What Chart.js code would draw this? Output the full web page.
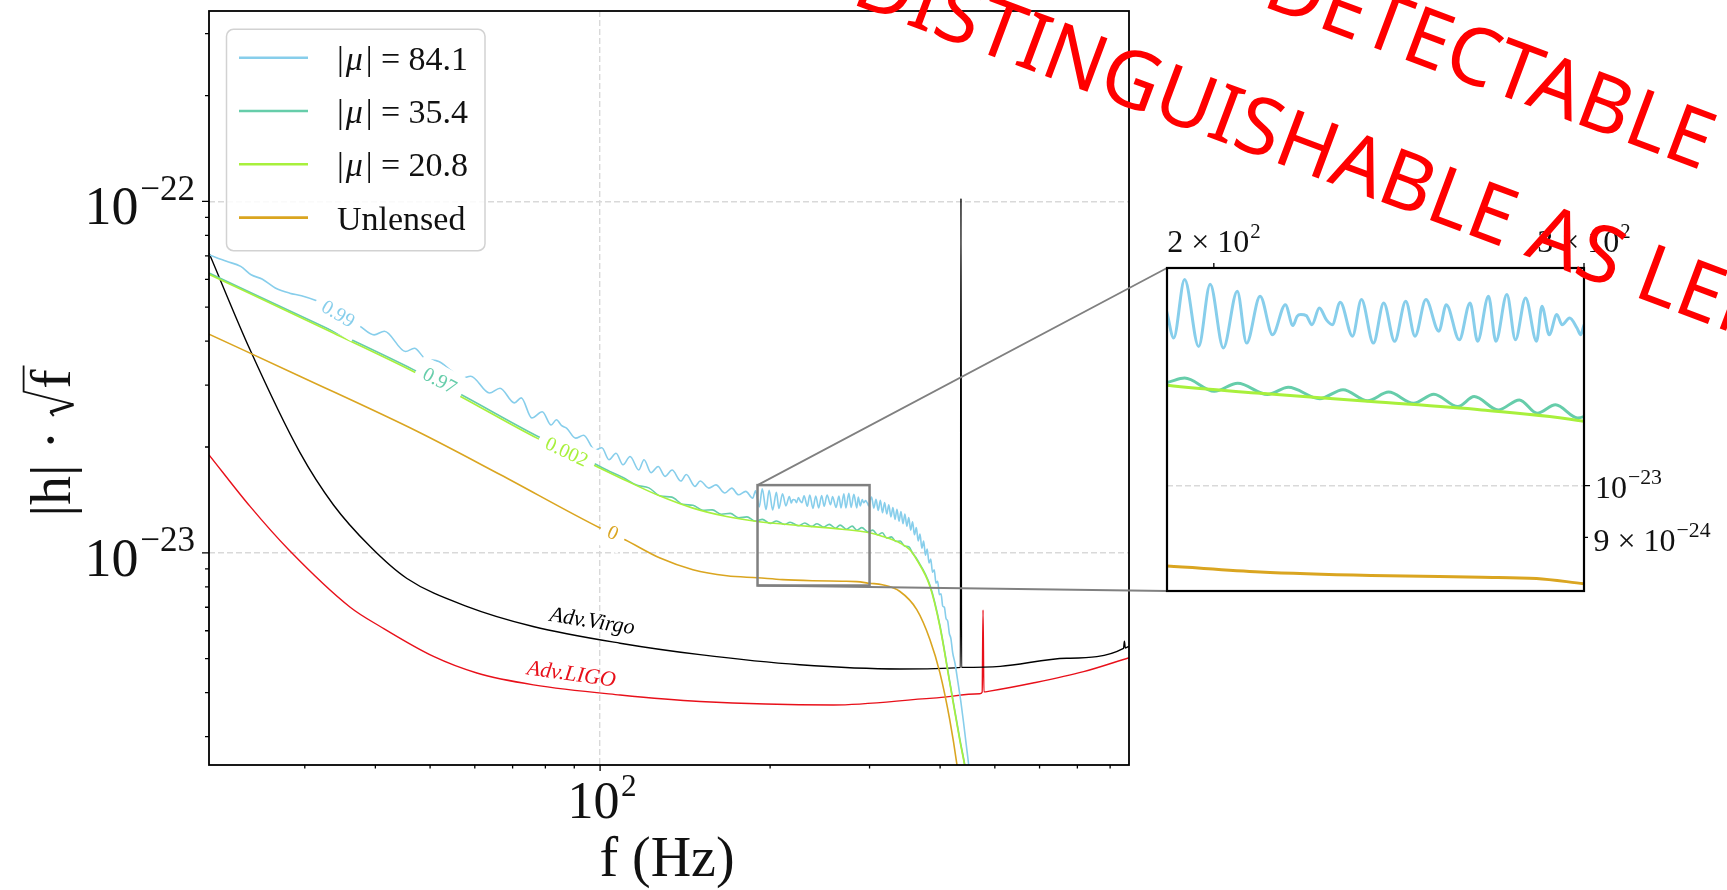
<!DOCTYPE html>
<html>
<head>
<meta charset="utf-8">
<script src="https://cdn.jsdelivr.net/npm/chart.js@4.4.0/dist/chart.umd.min.js"></script>
<style>
  html, body { margin: 0; padding: 0; background: #fff; overflow: hidden; }
  #wrap { position: relative; width: 1727px; height: 890px; }
  #wrap canvas { position: absolute; }
</style>
</head>
<body>
<div id="wrap">
  <canvas id="main" width="1727" height="890" style="left:0;top:0"></canvas>
  <canvas id="inset" width="627" height="420"></canvas>
  <canvas id="stamp" width="1727" height="890" style="left:0;top:0;pointer-events:none"></canvas>
</div>
<script>
// |h|*sqrt(f) curves, [frequency in Hz, value in units of 1e-23]
const mu841 = [
  [20.3,7.05],[21.8,6.75],[23.1,6.53],[24.1,6.18],[25.2,6.01],[26.6,5.67],[28.2,5.48],[29.6,5.39],
  [31.4,5.22],[33.5,4.95],[35.5,4.70],[37.6,4.41],[39.8,4.17],[41.5,4.27],[45.25,3.74],[46.9,3.82],
  [48.9,3.58],[51.8,3.50],[54.5,3.30],[56.9,3.14],[59.0,3.18],[63.7,2.85],[66.5,2.94],[70.5,2.67],
  [72.5,2.76],[75.7,2.42],[79.0,2.52],[81.9,2.31],[83.7,2.39],[85.5,2.30],[87.3,2.26],[90.5,2.12],
  [93.5,2.16],[97.9,1.96],[100.7,1.99],[103.7,1.84],[106.7,1.92],[109.8,1.78],[113.0,1.88],[117.1,1.72],
  [119.6,1.84],[123.1,1.69],[126.7,1.76],[130.3,1.65],[134.1,1.72],[139.0,1.60],[142.1,1.67],[147.2,1.545],
  [150.4,1.60],[155.8,1.528],[160.4,1.56],[166.3,1.479],[171.1,1.528],[175.8,1.462],[181.1,1.495],[186.3,1.43],
  [188.5,1.50],[190.0,1.422],[191.4,1.351],[193.7,1.522],[196.7,1.328],[199.2,1.507],[202.1,1.324],[205.2,1.486],
  [207.3,1.337],[210.4,1.471],[213.3,1.360],[216.3,1.446],[218.1,1.386],[219.1,1.412],[220.0,1.417],[221.3,1.414],
  [222.7,1.388],[224.5,1.436],[226.3,1.401],[227.7,1.388],[229.7,1.453],[232.8,1.356],[235.1,1.461],[238.2,1.337],
  [240.9,1.451],[243.8,1.342],[246.8,1.456],[249.3,1.356],[252.3,1.461],[255.9,1.370],[258.0,1.446],[261.7,1.346],
  [264.8,1.451],[267.0,1.342],[270.2,1.471],[272.4,1.342],[275.7,1.476],[278.3,1.346],[281.4,1.466],[284.8,1.342],
  [286.5,1.441],[288.8,1.360],[291.2,1.417],[292.9,1.388],[295.3,1.407],[297.7,1.379],[298.9,1.360],[299.9,1.384],
  [302.5,1.44],[305.3,1.34],[308.0,1.42],[310.8,1.32],[313.5,1.41],[316.3,1.30],[319.0,1.39],[321.8,1.29],
  [324.5,1.37],[327.3,1.265],[330.0,1.345],[332.8,1.245],[335.5,1.33],[338.3,1.23],[341.0,1.31],[343.8,1.21],
  [346.5,1.29],[349.3,1.19],[352.0,1.26],[354.8,1.16],[357.5,1.225],[360.3,1.125],[363.0,1.18],[365.8,1.08],
  [368.5,1.13],[371.3,1.03],[374.0,1.08],[376.8,0.985],[379.5,1.025],[382.3,0.935],[385.0,0.96],[387.8,0.88],
  [390.5,0.895],[393.3,0.82],[396.0,0.83],[398.8,0.76],[401.5,0.765],[404.3,0.705],[407.0,0.70],[409.8,0.65],
  [412.5,0.64],[415.3,0.59],[418.0,0.57],[421.0,0.52],[425.0,0.485],[430.0,0.43],[435.0,0.38],[440.0,0.33],
  [448.0,0.26],[455.0,0.21]
];
const mu354 = [
  [20.3,6.25],[33.7,4.27],[46.7,3.32],[56.5,2.83],[77.3,2.15],[97.2,1.80],[104.0,1.705],[110.0,1.635],
  [116.0,1.558],[122.0,1.53],[128.0,1.45],[134.0,1.44],[140.0,1.374],[146.0,1.365],[152.0,1.322],[158.0,1.325],
  [164.0,1.287],[170.0,1.295],[176.0,1.257],[182.0,1.265],[188.0,1.232],[190.0,1.234],[193.7,1.245],[200.1,1.212],
  [205.3,1.232],[212.1,1.204],[217.0,1.222],[224.6,1.194],[230.4,1.216],[236.7,1.189],[242.2,1.210],[248.9,1.183],
  [254.5,1.205],[261.3,1.175],[266.0,1.199],[273.1,1.167],[279.5,1.191],[285.0,1.159],[290.8,1.179],[297.9,1.148],
  [304.0,1.16],[310.0,1.125],[316.0,1.14],[322.0,1.10],[328.0,1.11],[334.0,1.078],[340.0,1.08],[346.0,1.045],
  [352.0,1.04],[358.0,0.995],[363.7,0.96],[383.8,0.808],[399.6,0.622],[416.0,0.43],[433.2,0.297],[442.0,0.251],
  [450.0,0.212]
];
const mu208 = [
  [20.3,6.20],[33.7,4.22],[46.7,3.28],[56.5,2.79],[77.3,2.12],[97.2,1.78],[111.6,1.60],[127.7,1.45],
  [146.0,1.34],[167.5,1.268],[190.0,1.227],[210.4,1.207],[237.6,1.187],[268.2,1.167],[300.0,1.140],[316.6,1.113],
  [339.6,1.066],[353.5,1.02],[363.7,0.955],[383.8,0.802],[399.6,0.617],[416.0,0.427],[433.2,0.294],[442.0,0.249],
  [450.0,0.21]
];
const unlensed = [
  [20.3,4.19],[29.4,3.18],[47.6,2.21],[66.5,1.67],[100.0,1.176],[110.7,1.089],[127.7,0.966],[146.0,0.895],
  [167.7,0.86],[190.0,0.849],[210.4,0.839],[237.6,0.833],[268.2,0.830],[284.8,0.828],[300.0,0.819],[316.0,0.811],
  [339.6,0.776],[363.7,0.689],[383.8,0.566],[399.6,0.456],[416.0,0.335],[428.5,0.249],[436.0,0.2]
];
const advVirgo = [
  [20.3,7.13],[24.0,3.78],[29.4,1.93],[33.7,1.37],[39.2,1.04],[45.5,0.845],[58.2,0.703],[76.1,0.617],
  [108.5,0.553],[150.3,0.513],[225.8,0.48],[339.6,0.467],[434.5,0.472],[435.5,10.2],[436.5,0.472],[511.0,0.475],
  [669.8,0.501],[845.0,0.535],[848.0,0.56],[851.0,0.536],[864.0,0.542]
];
const advLigo = [
  [20.3,1.90],[24.0,1.355],[28.1,1.02],[36.1,0.70],[40.8,0.617],[50.7,0.507],[60.5,0.455],[76.2,0.421],
  [108.5,0.394],[150.3,0.3775],[258.6,0.369],[388.8,0.386],[470.0,0.397],[474.8,0.401],[476.5,0.688],[478.2,0.402],
  [489.5,0.404],[584.0,0.426],[718.0,0.459],[864.0,0.503]
];

const muValues = ['84.1', '35.4', '20.8'];
const legendNames = ['Unlensed'];
const matchLabels = ['0.99', '0.97', '0.002', '0'];
const detectorLabels = ['Adv.Virgo', 'Adv.LIGO'];

const mainXTicks = [30, 40, 50, 60, 70, 80, 90, 100, 200, 300, 400, 500, 600, 700, 800];
const mainYTicks = [3e-24, 4e-24, 5e-24, 6e-24, 7e-24, 8e-24, 9e-24, 1e-23, 2e-23, 3e-23, 4e-23,
                    5e-23, 6e-23, 7e-23, 8e-23, 9e-23, 1e-22, 2e-22, 3e-22];
const zoomXTicks = [200, 300];
const zoomYTicks = [9e-24, 1e-23];

const stampLines = ['NOT DETECTABLE', 'NOT DISTINGUISHABLE AS LENSED'];

// ---- styling / layout ----
const E23 = 1e-23;
const SERIF = '"Liberation Serif", "DejaVu Serif", serif';
const BLUE = '#87ceeb', TEAL = '#66cdaa', GREEN = '#a8f03c', GOLD = '#daa520';
const MAIN_X = {min: 20.3, max: 864};
const MAIN_Y = {min: 2.49e-24, max: 3.48e-22};
const ZOOM_X = {min: 190, max: 300};
const ZOOM_Y = {min: 8.07e-24, max: 1.558e-23};
const INSET = {left: 1167, top: 268, right: 1584, bottom: 591};

Chart.defaults.font.family = SERIF;

const toPts = arr => arr.map(p => ({x: p[0], y: p[1] * E23}));

function ds(label, arr, color, width, order) {
  return {label: label, data: toPts(arr), borderColor: color, borderWidth: width, order: order,
          pointRadius: 0, fill: false, cubicInterpolationMode: 'monotone'};
}

// "10" with a raised exponent, like matplotlib's mathtext
function drawPow(ctx, base, sup, x, baseline, size, align, supScale, supRaise) {
  const bf = size + 'px ' + SERIF, sf = (size * supScale) + 'px ' + SERIF;
  ctx.font = bf; const wb = ctx.measureText(base).width;
  ctx.font = sf; const ws = ctx.measureText(sup).width;
  const gap = size * 0.03;
  const tot = wb + gap + ws;
  const x0 = align === 'right' ? x - tot : align === 'center' ? x - tot / 2 : x;
  ctx.textAlign = 'left'; ctx.textBaseline = 'alphabetic';
  ctx.font = bf; ctx.fillText(base, x0, baseline);
  ctx.font = sf; ctx.fillText(sup, x0 + wb + gap, baseline - size * supRaise);
}

function drawMu(ctx, value, x, baseline, size) {
  const up = size + 'px ' + SERIF, it = 'italic ' + size + 'px ' + SERIF;
  const parts = [['|', up, 0.06], ['\u03bc', it, 0.08], ['|', up, 0], [' = ' + value, up, 0]];
  let cx = x;
  ctx.textAlign = 'left'; ctx.textBaseline = 'alphabetic';
  parts.forEach(p => {
    ctx.font = p[1];
    ctx.fillText(p[0], cx, baseline);
    cx += ctx.measureText(p[0]).width + p[2] * size;
  });
}

const lineLabels = [
  {text: matchLabels[0], f: 34.3, h: 4.76, angle: 31, color: BLUE, box: true},
  {text: matchLabels[1], f: 51.9, h: 3.07, angle: 28, color: TEAL, box: true},
  {text: matchLabels[2], f: 87.1, h: 1.926, angle: 25.5, color: GREEN, box: true},
  {text: matchLabels[3], f: 105.2, h: 1.133, angle: 25.5, color: GOLD, box: true},
  {text: detectorLabels[0], f: 96.8, h: 0.636, angle: 9, color: '#000', box: false},
  {text: detectorLabels[1], f: 88.9, h: 0.4496, angle: 8, color: '#e8101a', box: false}
];

const mainDecor = {
  id: 'mainDecor',
  afterDatasetsDraw(chart) {
    const {ctx, scales: {x, y}} = chart;
    lineLabels.forEach(l => {
      const px = x.getPixelForValue(l.f), py = y.getPixelForValue(l.h * E23);
      ctx.save();
      ctx.translate(px, py);
      ctx.rotate(l.angle * Math.PI / 180);
      ctx.font = l.box ? '20px ' + SERIF : 'italic 22px ' + SERIF;
      const w = ctx.measureText(l.text).width;
      if (l.box) {
        ctx.fillStyle = '#fff';
        ctx.fillRect(-w / 2 - 8, -16, w + 16, 32);
      }
      ctx.fillStyle = l.color;
      ctx.textAlign = 'center';
      ctx.textBaseline = 'middle';
      ctx.fillText(l.text, 0, 0);
      ctx.restore();
    });
  },
  afterDraw(chart) {
    const {ctx, chartArea: a, scales: {x, y}} = chart;
    ctx.save();
    // frame
    ctx.strokeStyle = '#000'; ctx.lineWidth = 1.8;
    ctx.strokeRect(a.left, a.top, a.right - a.left, a.bottom - a.top);
    // tick marks
    ctx.lineWidth = 1.3;
    ctx.beginPath();
    mainXTicks.forEach(t => {
      const px = x.getPixelForValue(t), len = t === 100 ? 6 : 3.5;
      ctx.moveTo(px, a.bottom); ctx.lineTo(px, a.bottom + len);
    });
    mainYTicks.forEach(t => {
      const py = y.getPixelForValue(t);
      const major = Math.abs(Math.log10(t) - Math.round(Math.log10(t))) < 1e-6;
      ctx.moveTo(a.left, py); ctx.lineTo(a.left - (major ? 7 : 4), py);
    });
    ctx.stroke();
    // tick labels
    ctx.fillStyle = '#111';
    drawPow(ctx, '10', '\u221222', a.left - 14, y.getPixelForValue(1e-22) + 23, 54, 'right', 0.65, 0.45);
    drawPow(ctx, '10', '\u221223', a.left - 14, y.getPixelForValue(1e-23) + 23, 54, 'right', 0.65, 0.45);
    drawPow(ctx, '10', '2', x.getPixelForValue(100) + 2, 818, 52, 'center', 0.6, 0.42);
    // axis titles
    ctx.font = '56px ' + SERIF;
    ctx.textAlign = 'center'; ctx.textBaseline = 'alphabetic';
    ctx.fillText('f (Hz)', (a.left + a.right) / 2 - 2, 876);
    ctx.save();
    ctx.translate(70, 441);
    ctx.rotate(-Math.PI / 2);
    const S = 58;
    ctx.font = S + 'px ' + SERIF;
    ctx.textAlign = 'left';
    const p1 = '|h| \u00b7 ';
    const w1 = ctx.measureText(p1).width, wf = ctx.measureText('f').width;
    const tot = w1 + 0.47 * S + wf + 4;
    const s0 = -tot / 2, rx = s0 + w1;
    ctx.fillText(p1, s0, 0);
    ctx.fillText('f', rx + 0.47 * S, 0);
    ctx.strokeStyle = '#111'; ctx.lineWidth = 2;
    ctx.beginPath();
    ctx.moveTo(rx, -0.28 * S); ctx.lineTo(rx + 0.07 * S, -0.34 * S);
    ctx.stroke();
    ctx.lineWidth = 3.2;
    ctx.beginPath(); ctx.moveTo(rx + 0.07 * S, -0.34 * S); ctx.lineTo(rx + 0.2 * S, 0.06 * S); ctx.stroke();
    ctx.lineWidth = 1.8;
    ctx.beginPath();
    ctx.moveTo(rx + 0.2 * S, 0.06 * S); ctx.lineTo(rx + 0.42 * S, -0.8 * S);
    ctx.lineTo(rx + 0.47 * S + wf + 4, -0.8 * S);
    ctx.stroke();
    ctx.restore();
    // legend
    const L = {left: 226.5, top: 29.3, right: 485, bottom: 250.7};
    ctx.beginPath();
    ctx.roundRect(L.left, L.top, L.right - L.left, L.bottom - L.top, 7);
    ctx.fillStyle = 'rgba(255,255,255,0.85)'; ctx.fill();
    ctx.strokeStyle = '#d2d2d2'; ctx.lineWidth = 1.5; ctx.stroke();
    const rows = [BLUE, TEAL, GREEN, GOLD];
    rows.forEach((c, i) => {
      const ry = 57.7 + i * 53.3;
      ctx.strokeStyle = c; ctx.lineWidth = 2.6;
      ctx.beginPath(); ctx.moveTo(239, ry); ctx.lineTo(308, ry); ctx.stroke();
      ctx.fillStyle = '#111';
      if (i < 3) {
        drawMu(ctx, muValues[i], 337, ry + 12, 34);
      } else {
        ctx.font = '34px ' + SERIF; ctx.textAlign = 'left'; ctx.textBaseline = 'alphabetic';
        ctx.fillText(legendNames[0], 337, ry + 12);
      }
    });
    // zoom box and connectors
    const bx0 = x.getPixelForValue(ZOOM_X.min), bx1 = x.getPixelForValue(ZOOM_X.max);
    const by0 = y.getPixelForValue(ZOOM_Y.max), by1 = y.getPixelForValue(ZOOM_Y.min);
    ctx.strokeStyle = '#808080'; ctx.lineWidth = 2.5;
    ctx.strokeRect(bx0, by0, bx1 - bx0, by1 - by0);
    ctx.lineWidth = 1.8;
    ctx.beginPath();
    ctx.moveTo(bx0, by0); ctx.lineTo(INSET.left, INSET.top);
    ctx.moveTo(bx0, by1); ctx.lineTo(INSET.left, INSET.bottom);
    ctx.stroke();
    ctx.restore();
  }
};

new Chart(document.getElementById('main'), {
  type: 'line',
  data: {datasets: [
    ds('|\u03bc| = 84.1', mu841, BLUE, 1.6, 3),
    ds('|\u03bc| = 35.4', mu354, TEAL, 1.6, 2),
    ds('|\u03bc| = 20.8', mu208, GREEN, 1.6, 1),
    ds('Unlensed', unlensed, GOLD, 1.6, 4),
    ds('Adv. Virgo', advVirgo, '#000', 1.4, 5),
    ds('Adv. LIGO', advLigo, '#e8101a', 1.4, 6)
  ]},
  options: {
    responsive: false, animation: false, devicePixelRatio: 1,
    layout: {padding: {left: 0, top: 11, right: 598, bottom: 0}},
    plugins: {legend: {display: false}, tooltip: {enabled: false}},
    scales: {
      x: {
        type: 'logarithmic', position: 'bottom', min: MAIN_X.min, max: MAIN_X.max,
        afterBuildTicks: s => { s.ticks = mainXTicks.map(v => ({value: v})); },
        afterFit: s => { s.height = 125; },
        ticks: {display: false, autoSkip: false},
        grid: {drawTicks: false, lineWidth: 1.4,
               color: c => (c.tick && c.tick.value === 100) ? '#d9d9d9' : 'rgba(0,0,0,0)'},
        border: {display: false, dash: [6, 3]}
      },
      y: {
        type: 'logarithmic', position: 'left', min: MAIN_Y.min, max: MAIN_Y.max,
        afterBuildTicks: s => { s.ticks = mainYTicks.map(v => ({value: v})); },
        afterFit: s => { s.width = 209; },
        ticks: {display: false, autoSkip: false},
        grid: {drawTicks: false, lineWidth: 1.4,
               color: c => (c.tick && (c.tick.value === 1e-22 || c.tick.value === 1e-23)) ? '#d9d9d9' : 'rgba(0,0,0,0)'},
        border: {display: false, dash: [6, 3]}
      }
    }
  },
  plugins: [mainDecor]
});

// ---- inset ----
const insetCanvas = document.getElementById('inset');
const IPAD = {left: 67, top: 68, right: 143, bottom: 29};
insetCanvas.style.left = (INSET.left - IPAD.left) + 'px';
insetCanvas.style.top = (INSET.top - IPAD.top) + 'px';

const insetDecor = {
  id: 'insetDecor',
  beforeDraw(chart) {
    const {ctx, chartArea: a} = chart;
    ctx.save(); ctx.fillStyle = '#fff';
    ctx.fillRect(a.left, a.top, a.right - a.left, a.bottom - a.top);
    ctx.restore();
  },
  afterDraw(chart) {
    const {ctx, chartArea: a, scales: {x, y}} = chart;
    ctx.save();
    ctx.strokeStyle = '#000'; ctx.lineWidth = 2.2;
    ctx.strokeRect(a.left, a.top, a.right - a.left, a.bottom - a.top);
    ctx.lineWidth = 1.3;
    ctx.beginPath();
    zoomXTicks.forEach(t => { const px = x.getPixelForValue(t); ctx.moveTo(px, a.top); ctx.lineTo(px, a.top - 5); });
    zoomYTicks.forEach(t => {
      const py = y.getPixelForValue(t);
      ctx.moveTo(a.right, py); ctx.lineTo(a.right + (t === 1e-23 ? 6 : 4), py);
    });
    ctx.stroke();
    ctx.fillStyle = '#111';
    drawPow(ctx, '2 \u00d7 10', '2', x.getPixelForValue(200), a.top - 16, 32, 'center', 0.65, 0.45);
    drawPow(ctx, '3 \u00d7 10', '2', x.getPixelForValue(300), a.top - 16, 32, 'center', 0.65, 0.45);
    drawPow(ctx, '10', '\u221223', a.right + 11, y.getPixelForValue(1e-23) + 12.5, 32, 'left', 0.68, 0.45);
    drawPow(ctx, '9 \u00d7 10', '\u221224', a.right + 9.5, y.getPixelForValue(9e-24) + 14, 32, 'left', 0.68, 0.45);
    ctx.restore();
  }
};

new Chart(insetCanvas, {
  type: 'line',
  data: {datasets: [
    ds('|\u03bc| = 84.1', mu841, BLUE, 3, 3),
    ds('|\u03bc| = 35.4', mu354, TEAL, 3, 2),
    ds('|\u03bc| = 20.8', mu208, GREEN, 3, 1),
    ds('Unlensed', unlensed, GOLD, 3, 4)
  ]},
  options: {
    responsive: false, animation: false, devicePixelRatio: 1,
    layout: {padding: {left: IPAD.left, top: 0, right: 0, bottom: IPAD.bottom}},
    plugins: {legend: {display: false}, tooltip: {enabled: false}},
    scales: {
      x: {
        type: 'logarithmic', position: 'top', min: ZOOM_X.min, max: ZOOM_X.max,
        afterBuildTicks: s => { s.ticks = zoomXTicks.map(v => ({value: v})); },
        afterFit: s => { s.height = IPAD.top; },
        ticks: {display: false, autoSkip: false},
        grid: {drawTicks: false, color: 'rgba(0,0,0,0)'},
        border: {display: false}
      },
      y: {
        type: 'logarithmic', position: 'right', min: ZOOM_Y.min, max: ZOOM_Y.max,
        afterBuildTicks: s => { s.ticks = zoomYTicks.map(v => ({value: v})); },
        afterFit: s => { s.width = IPAD.right; },
        ticks: {display: false, autoSkip: false},
        grid: {drawTicks: false, lineWidth: 1.4,
               color: c => (c.tick && c.tick.value === 1e-23) ? '#d9d9d9' : 'rgba(0,0,0,0)'},
        border: {display: false, dash: [6, 3]}
      }
    }
  },
  plugins: [insetDecor]
});

// ---- red stamp across the top right ----
function stampLine(ctx, text, prefix, ch, ax, ay, deg, size) {
  ctx.save();
  ctx.translate(ax, ay);
  ctx.rotate(deg * Math.PI / 180);
  ctx.font = size + 'px "Noto Sans"';
  const off = ctx.measureText(prefix).width + ctx.measureText(ch).width / 2;
  ctx.textAlign = 'left'; ctx.textBaseline = 'alphabetic';
  ctx.fillText(text, -off, size * 0.714 / 2);
  ctx.restore();
}
const st = document.getElementById('stamp').getContext('2d');
st.fillStyle = '#ff0000';
stampLine(st, stampLines[0], 'NOT DETECT', 'A', 1563, 88, 20.5, 80);
stampLine(st, stampLines[1], 'NOT DISTINGUISHABLE ', 'A', 1557, 237, 20.5, 80);
</script>
</body>
</html>
